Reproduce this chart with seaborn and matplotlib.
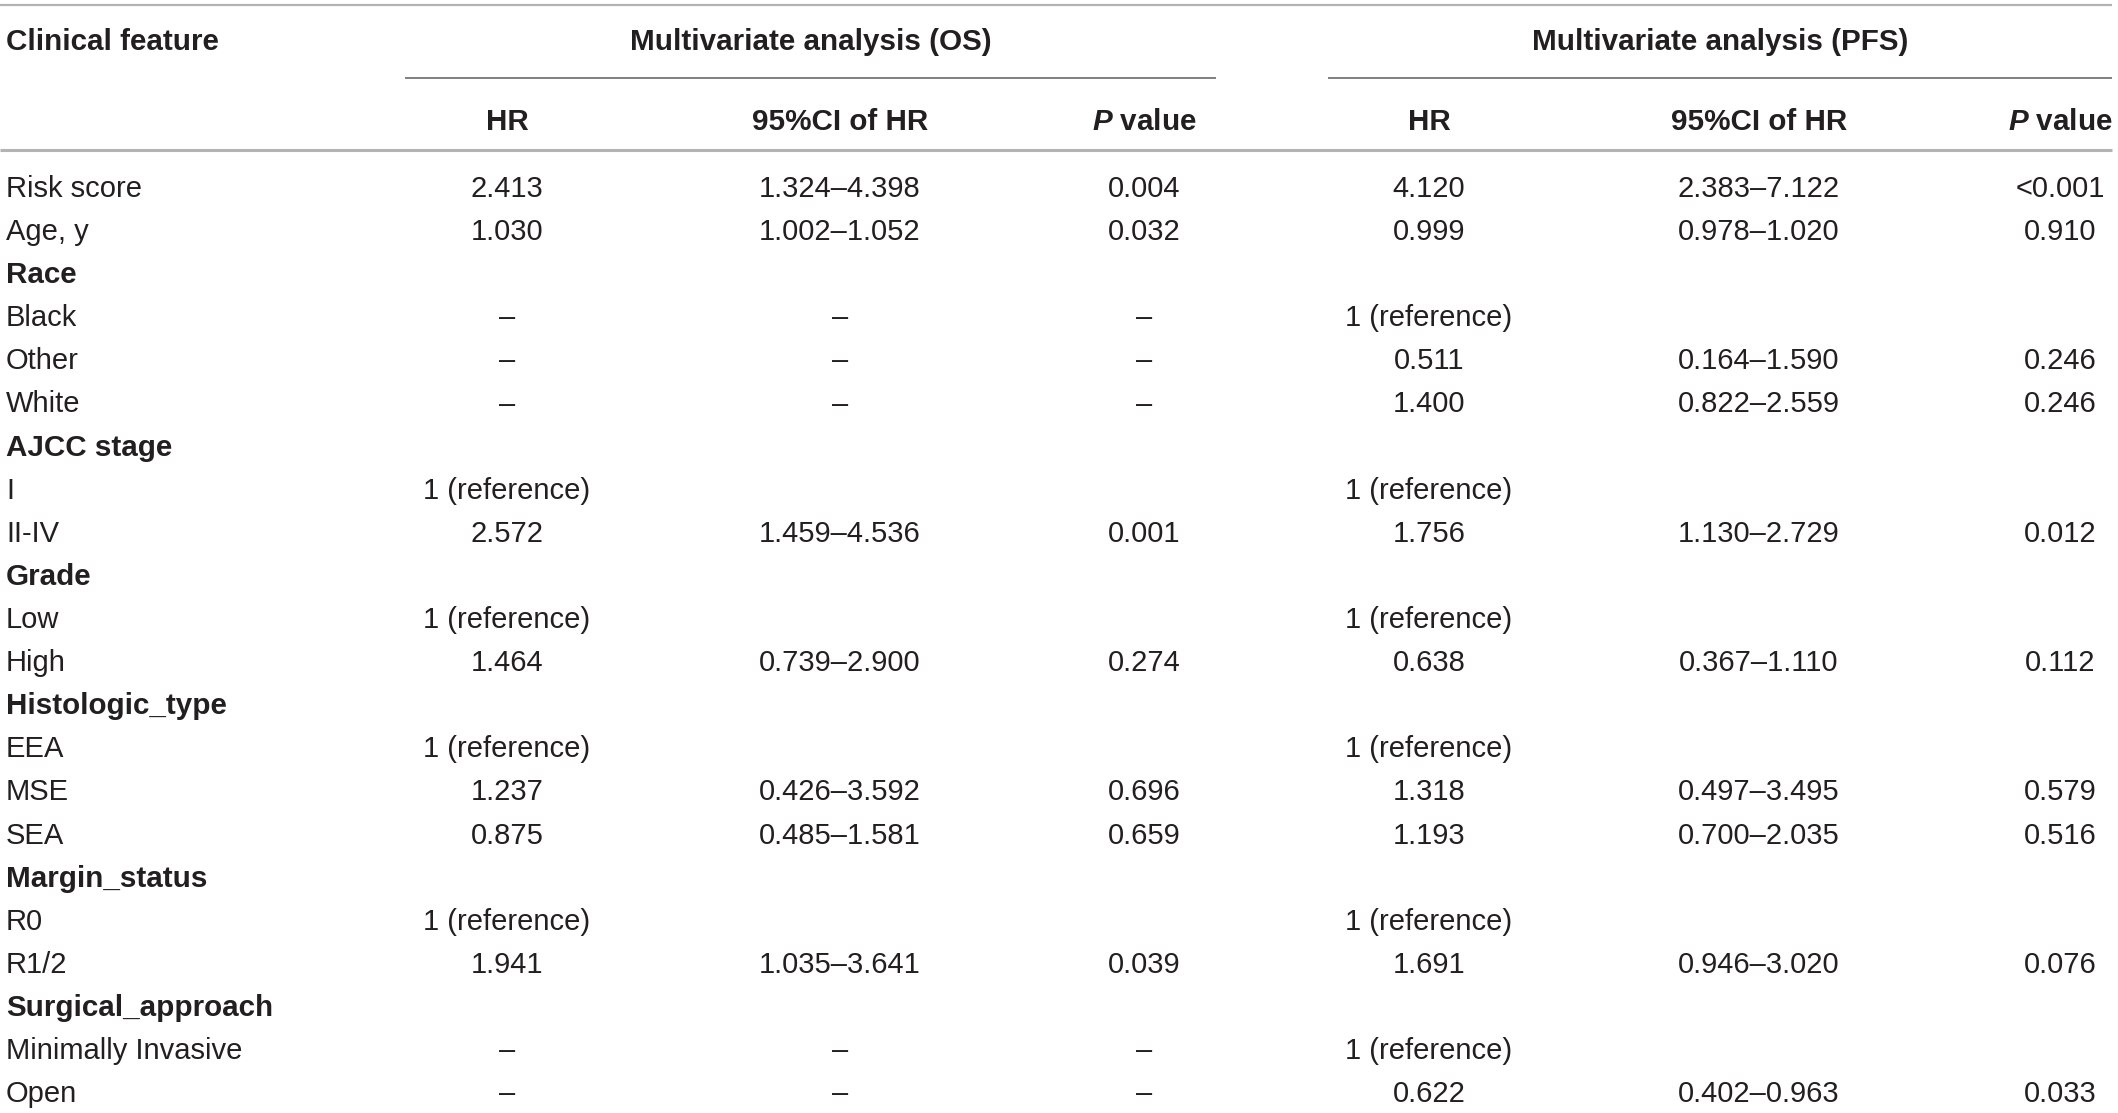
import matplotlib
matplotlib.use("Agg")
import matplotlib.pyplot as plt
import seaborn as sns

# ---------------- data ----------------
features = ["Risk score", "Age, y", "Race", "Black", "Other", "White", "AJCC stage", "I", "II-IV",
            "Grade", "Low", "High", "Histologic_type", "EEA", "MSE", "SEA", "Margin_status", "R0",
            "R1/2", "Surgical_approach", "Minimally Invasive", "Open"]
group_rows = [False, False, True, False, False, False, True, False, False,
              True, False, False, True, False, False, False, True, False,
              False, True, False, False]
os_hr = ["2.413", "1.030", "", "–", "–", "–", "", "1 (reference)", "2.572",
         "", "1 (reference)", "1.464", "", "1 (reference)", "1.237", "0.875", "", "1 (reference)",
         "1.941", "", "–", "–"]
os_ci = ["1.324–4.398", "1.002–1.052", "", "–", "–", "–", "", "", "1.459–4.536",
         "", "", "0.739–2.900", "", "", "0.426–3.592", "0.485–1.581", "", "",
         "1.035–3.641", "", "–", "–"]
os_p = ["0.004", "0.032", "", "–", "–", "–", "", "", "0.001",
        "", "", "0.274", "", "", "0.696", "0.659", "", "",
        "0.039", "", "–", "–"]
pfs_hr = ["4.120", "0.999", "", "1 (reference)", "0.511", "1.400", "", "1 (reference)", "1.756",
          "", "1 (reference)", "0.638", "", "1 (reference)", "1.318", "1.193", "", "1 (reference)",
          "1.691", "", "1 (reference)", "0.622"]
pfs_ci = ["2.383–7.122", "0.978–1.020", "", "", "0.164–1.590", "0.822–2.559", "", "", "1.130–2.729",
          "", "", "0.367–1.110", "", "", "0.497–3.495", "0.700–2.035", "", "",
          "0.946–3.020", "", "", "0.402–0.963"]
pfs_p = ["<0.001", "0.910", "", "", "0.246", "0.246", "", "", "0.012",
         "", "", "0.112", "", "", "0.579", "0.516", "", "",
         "0.076", "", "", "0.033"]
group_titles = ["Multivariate analysis (OS)", "Multivariate analysis (PFS)"]
sub_headers = ["HR", "95%CI of HR", "$P$ value"]
first_header = "Clinical feature"

# ---------------- style ----------------
sns.set_theme(style="white")
plt.rcParams["font.family"] = ["Liberation Sans", "DejaVu Sans"]
plt.rcParams["mathtext.fontset"] = "custom"
plt.rcParams["mathtext.it"] = "Liberation Sans:italic:bold"
plt.rcParams["mathtext.rm"] = "Liberation Sans:bold"
plt.rcParams["mathtext.bf"] = "Liberation Sans:bold"

W, H = 2118, 1113
fig = plt.figure(figsize=(W / 100, H / 100), dpi=100)
ax = fig.add_axes([0, 0, 1, 1])
ax.set_xlim(0, W)
ax.set_ylim(H, 0)
ax.axis("off")

txt_color = "#231f20"
fs_body = 21
fs_bold = 21.3
cap_half = 10.5  # px offset from row centre to baseline

label_x = 6
col_x = [507, 840, 1144, 1429, 1759, 2060]
title_x = [811, 1720]
head_y = 40
sub_y = 119
row0 = 186.5
dy = 43.1
line_right = 2112

def put(x, y, s, ha="center", bold=False):
    ax.text(x, y + cap_half, s, ha=ha, va="baseline",
            fontsize=fs_bold if bold else fs_body,
            fontweight="bold" if bold else "normal", color=txt_color)

# header texts
put(label_x, head_y, first_header, ha="left", bold=True)
for g in range(2):
    put(title_x[g], head_y, group_titles[g], bold=True)
    for k, s in enumerate(sub_headers):
        put(col_x[g * 3 + k], sub_y, s, bold=True)

# rules
ax.hlines(5, 0, line_right, color="#b3b3b3", lw=1.6)
ax.hlines(78, 405, 1216, color="#808080", lw=1.4)
ax.hlines(78, 1328, line_right, color="#808080", lw=1.4)
ax.hlines(150, 0, line_right, color="#b3b3b3", lw=2.2)

# body
cols = [os_hr, os_ci, os_p, pfs_hr, pfs_ci, pfs_p]
for i, name in enumerate(features):
    y = row0 + i * dy
    put(label_x, y, name, ha="left", bold=group_rows[i])
    for c, vals in enumerate(cols):
        if vals[i]:
            put(col_x[c], y, vals[i])

fig.savefig("out.png", dpi=100, facecolor="white")
